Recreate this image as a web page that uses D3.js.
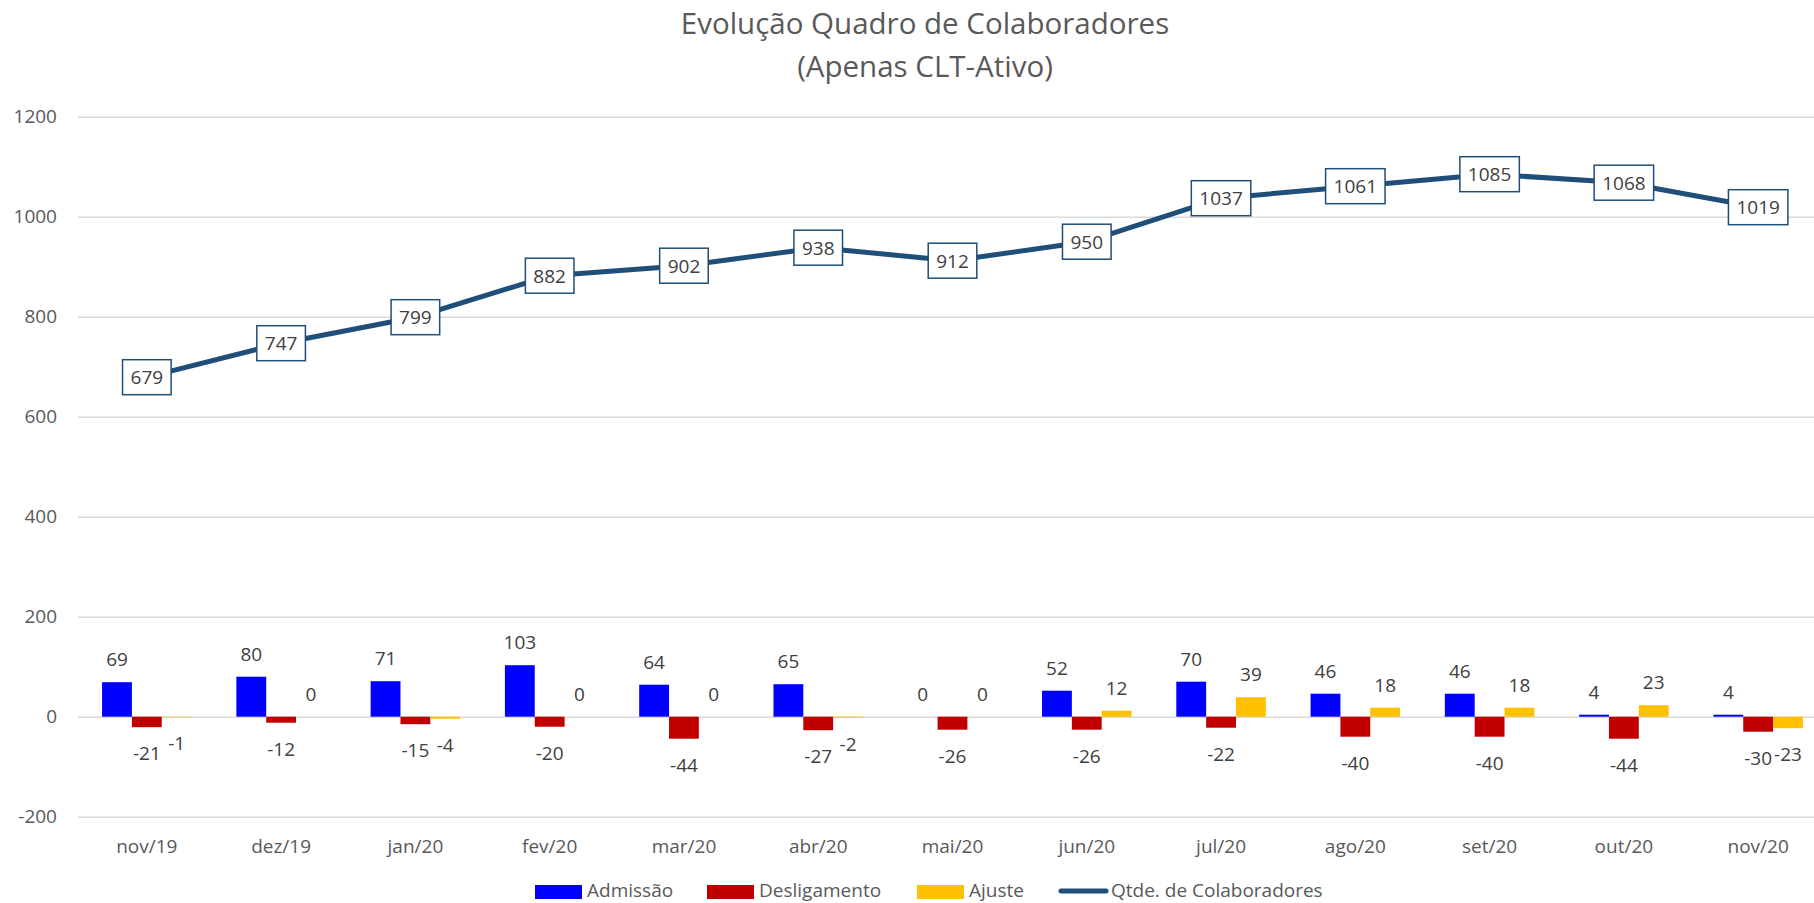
<!DOCTYPE html>
<html>
<head>
  <meta charset="utf-8">
  <script src="https://cdn.jsdelivr.net/npm/d3@7"></script>
  <style>
    body { margin: 0; background: #fff; }
    text { font-family: "Open Sans", "Noto Sans", sans-serif; }
  </style>
</head>
<body>
  <div id="svgcontainer"></div>
  <script>
    // data
    var meses = ["nov/19", "dez/19", "jan/20", "fev/20", "mar/20", "abr/20", "mai/20",
                 "jun/20", "jul/20", "ago/20", "set/20", "out/20", "nov/20"];
    var admissao = [69, 80, 71, 103, 64, 65, 0, 52, 70, 46, 46, 4, 4];
    var desligamento = [-21, -12, -15, -20, -44, -27, -26, -26, -22, -40, -40, -44, -30];
    var ajuste = [-1, 0, -4, 0, 0, -2, 0, 12, 39, 18, 18, 23, -23];
    var qtde = [679, 747, 799, 882, 902, 938, 912, 950, 1037, 1061, 1085, 1068, 1019];
    var yTicks = [-200, 0, 200, 400, 600, 800, 1000, 1200];
    var series = ["Admissão", "Desligamento", "Ajuste"];

    var width = 1814, height = 903;
    var cores = { "Admissão": "#0000ff", "Desligamento": "#c00000", "Ajuste": "#ffc000" };
    var lineColor = "#1f4e79";
    var txtColor = "#595959";
    var fontSize = 19;

    var svg = d3.select("#svgcontainer").append("svg")
      .attr("width", width).attr("height", height);

    var x = d3.scaleBand().domain(meses).range([79.7, 1825.3]);
    var xs = d3.scaleBand().domain(series).range([0, x.bandwidth()])
      .paddingInner(0).paddingOuter(0.75);
    var y = d3.scaleLinear().domain([-200, 1200]).range([816.7, 116.7]);

    // title
    svg.append("text").attr("x", 925).attr("y", 34).attr("text-anchor", "middle")
      .attr("font-size", 29.5).attr("fill", txtColor).text("Evolução Quadro de Colaboradores");
    svg.append("text").attr("x", 925).attr("y", 77).attr("text-anchor", "middle")
      .attr("font-size", 29.5).attr("fill", txtColor).text("(Apenas CLT-Ativo)");

    // y axis + gridlines
    var yAxis = svg.append("g").attr("transform", "translate(78,0)")
      .call(d3.axisLeft(y).tickValues(yTicks).tickSize(-(width - 78)).tickPadding(21)
        .tickFormat(function(d) { return String(d); }));
    yAxis.select(".domain").remove();
    yAxis.selectAll("line").attr("stroke", "#d9d9d9").attr("stroke-width", 1.5);
    yAxis.selectAll("text").attr("font-size", fontSize).attr("fill", txtColor)
      .attr("font-family", "Open Sans");

    // x axis labels
    var xAxis = svg.append("g").attr("transform", "translate(0," + y(-200) + ")")
      .call(d3.axisBottom(x).tickSize(0).tickPadding(23));
    xAxis.select(".domain").remove();
    xAxis.selectAll("text").attr("font-size", fontSize).attr("fill", txtColor)
      .attr("font-family", "Open Sans");

    // bars
    var valores = { "Admissão": admissao, "Desligamento": desligamento, "Ajuste": ajuste };
    series.forEach(function(s) {
      var g = svg.append("g");
      var dados = meses.map(function(m, i) { return { mes: m, v: valores[s][i] }; });
      g.selectAll("rect").data(dados).enter().append("rect")
        .attr("x", function(d) { return x(d.mes) + xs(s); })
        .attr("width", xs.bandwidth())
        .attr("y", function(d) { return y(Math.max(0, d.v)); })
        .attr("height", function(d) { return Math.abs(y(d.v) - y(0)); })
        .attr("fill", cores[s]);
      g.selectAll("text").data(dados).enter().append("text")
        .attr("x", function(d) { return x(d.mes) + xs(s) + xs.bandwidth() / 2; })
        .attr("y", function(d) { return d.v >= 0 ? y(d.v) - 16 : y(d.v) + 33; })
        .attr("text-anchor", "middle").attr("font-size", fontSize).attr("fill", "#404040")
        .text(function(d) { return d.v; });
    });

    // headcount line
    var linha = d3.line()
      .x(function(d, i) { return x(meses[i]) + x.bandwidth() / 2; })
      .y(function(d) { return y(d); });
    svg.append("path").datum(qtde).attr("d", linha)
      .attr("fill", "none").attr("stroke", lineColor).attr("stroke-width", 5)
      .attr("stroke-linejoin", "round");

    // boxed labels on the line
    var lbl = svg.selectAll(".lbl").data(qtde).enter().append("g")
      .attr("transform", function(d, i) {
        return "translate(" + (x(meses[i]) + x.bandwidth() / 2) + "," + y(d) + ")";
      });
    lbl.append("rect").attr("fill", "#fff").attr("stroke", lineColor).attr("stroke-width", 1.5);
    lbl.append("text").attr("text-anchor", "middle").attr("y", 7)
      .attr("font-size", fontSize).attr("fill", "#404040").text(function(d) { return d; });
    lbl.each(function() {
      var g = d3.select(this);
      var w = g.select("text").node().getComputedTextLength() + 16;
      g.select("rect").attr("x", -w / 2).attr("y", -17.5).attr("width", w).attr("height", 35);
    });

    // legend
    var legY = 891;
    var leg = [
      { nome: "Admissão", x: 535, tipo: "bar" },
      { nome: "Desligamento", x: 707, tipo: "bar" },
      { nome: "Ajuste", x: 917, tipo: "bar" },
      { nome: "Qtde. de Colaboradores", x: 1059, tipo: "line" }
    ];
    leg.forEach(function(l) {
      if (l.tipo == "bar") {
        svg.append("rect").attr("x", l.x).attr("y", legY - 6).attr("width", 47).attr("height", 14)
          .attr("fill", cores[l.nome]);
      } else {
        svg.append("line").attr("x1", l.x + 2).attr("x2", l.x + 47).attr("y1", legY).attr("y2", legY)
          .attr("stroke", lineColor).attr("stroke-width", 5).attr("stroke-linecap", "round");
      }
      svg.append("text").attr("x", l.x + 52).attr("y", legY + 6).attr("font-size", fontSize)
        .attr("fill", txtColor).text(l.nome);
    });
  </script>
</body>
</html>
